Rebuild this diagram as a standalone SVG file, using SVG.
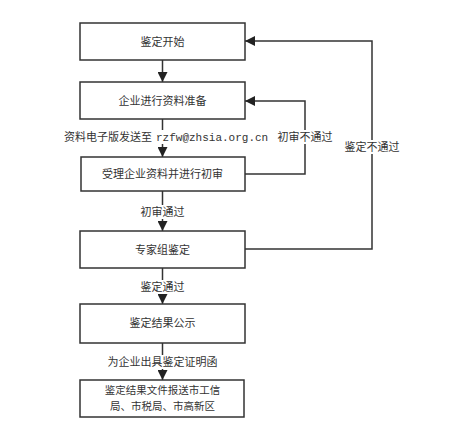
<svg xmlns="http://www.w3.org/2000/svg" width="451" height="438" viewBox="0 0 451 438">
<style>
.box{fill:#fff;stroke:#333;stroke-width:1.5}
.t{font-family:"Noto Sans CJK SC","Liberation Sans",sans-serif;font-size:11px;fill:#333;text-anchor:middle}
.s{font-size:10.5px}
.m{font-family:"Liberation Mono",monospace;font-size:11px;fill:#333}
.c{fill:none;stroke:#333;stroke-width:1.5}
.bg{fill:#fff}
</style>
<defs>
<marker id="ah" markerUnits="userSpaceOnUse" markerWidth="10" markerHeight="10" viewBox="0 0 10 10" refX="10" refY="5" orient="auto">
<path d="M0,0 L10,5 L0,10 z" fill="#222"/>
</marker>
</defs>
<rect width="451" height="438" fill="#fff"/>
<g id="connectors">
<line class="c" x1="162.5" y1="60" x2="162.5" y2="82" marker-end="url(#ah)"/>
<line class="c" x1="162.5" y1="119" x2="162.5" y2="157" marker-end="url(#ah)"/>
<line class="c" x1="162.5" y1="191" x2="162.5" y2="231" marker-end="url(#ah)"/>
<line class="c" x1="162.5" y1="268" x2="162.5" y2="304" marker-end="url(#ah)"/>
<line class="c" x1="162.5" y1="343" x2="162.5" y2="380" marker-end="url(#ah)"/>
<polyline class="c" points="245,174 305,174 305,101 245,101" marker-end="url(#ah)"/>
<polyline class="c" points="245,249 372,249 372,41 245,41" marker-end="url(#ah)"/>
<rect class="bg" x="60" y="130" width="215" height="14"/>
<text class="t" x="108" y="141">资料电子版发送至</text>
<text class="m" x="156" y="141">rzfw@zhsia.org.cn</text>
<rect class="bg" x="276" y="130" width="58" height="14"/>
<text class="t" x="305" y="141">初审不通过</text>
<rect class="bg" x="343" y="140" width="58" height="14"/>
<text class="t" x="372" y="151">鉴定不通过</text>
<rect class="bg" x="138" y="205" width="49" height="14"/>
<text class="t" x="162.5" y="216">初审通过</text>
<rect class="bg" x="138" y="280" width="49" height="14"/>
<text class="t" x="162.5" y="291">鉴定通过</text>
<rect class="bg" x="102" y="355" width="121" height="14"/>
<text class="t" x="162.5" y="366">为企业出具鉴定证明函</text>
</g>
<g id="n1"><rect class="box" x="80" y="23" width="165" height="37"/><text class="t" x="162.5" y="45.5">鉴定开始</text></g>
<g id="n2"><rect class="box" x="80" y="82" width="165" height="37"/><text class="t" x="162.5" y="104.5">企业进行资料准备</text></g>
<g id="n3"><rect class="box" x="81" y="157" width="164" height="34"/><text class="t" x="162.5" y="178">受理企业资料并进行初审</text></g>
<g id="n4"><rect class="box" x="80" y="231" width="165" height="37"/><text class="t" x="162.5" y="253.5">专家组鉴定</text></g>
<g id="n5"><rect class="box" x="80" y="304" width="165" height="39"/><text class="t" x="162.5" y="327">鉴定结果公示</text></g>
<g id="n6"><rect class="box" x="80" y="380" width="164" height="37"/><text class="t s" x="162.5" y="394">鉴定结果文件报送市工信</text><text class="t s" x="162.5" y="409.5">局、市税局、市高新区</text></g>
</svg>
